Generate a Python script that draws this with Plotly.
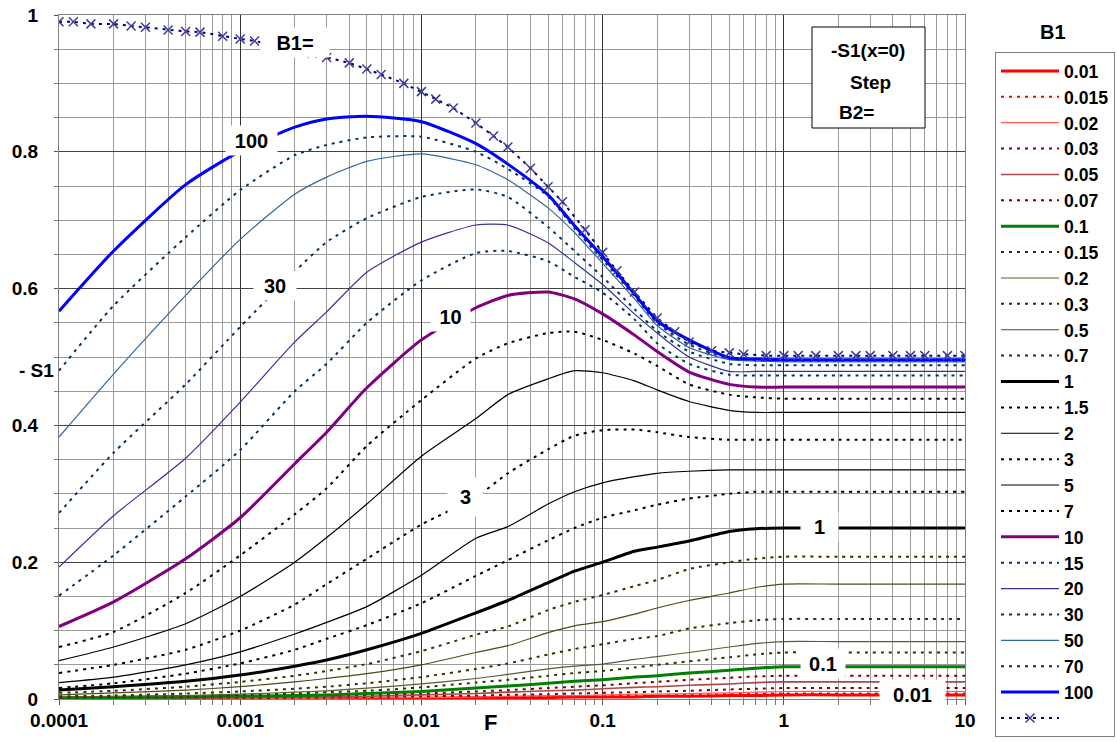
import math
import plotly.graph_objects as go

# Fourier number grid shared by the B1 curves
F = [1e-4, 2e-4, 5e-4, 1e-3, 2e-3, 3e-3, 5e-3, 1e-2, 2e-2, 3e-2, 5e-2, 7e-2,
     0.1, 0.15, 0.2, 0.3, 0.5, 0.7, 1, 2, 10]

# -S1(x=0) for each Biot number B1
s_0_01 = [0.001, 0.001, 0.001, 0.001, 0.001, 0.001, 0.001, 0.001, 0.002, 0.002, 0.002, 0.003, 0.003, 0.003, 0.004, 0.004, 0.005, 0.005, 0.006, 0.006, 0.006]
s_0_015 = [0.001, 0.001, 0.001, 0.001, 0.001, 0.001, 0.001, 0.002, 0.002, 0.003, 0.003, 0.004, 0.004, 0.005, 0.005, 0.006, 0.007, 0.008, 0.008, 0.008, 0.008]
s_0_02 = [0.001, 0.001, 0.001, 0.001, 0.001, 0.001, 0.002, 0.002, 0.003, 0.004, 0.005, 0.005, 0.006, 0.007, 0.007, 0.008, 0.009, 0.010, 0.011, 0.011, 0.011]
s_0_03 = [0.001, 0.001, 0.001, 0.001, 0.002, 0.002, 0.003, 0.004, 0.005, 0.006, 0.007, 0.008, 0.009, 0.010, 0.011, 0.012, 0.014, 0.015, 0.016, 0.016, 0.016]
s_0_05 = [0.001, 0.001, 0.001, 0.002, 0.003, 0.003, 0.004, 0.006, 0.008, 0.010, 0.012, 0.013, 0.015, 0.017, 0.018, 0.020, 0.022, 0.024, 0.025, 0.025, 0.025]
s_0_07 = [0.001, 0.001, 0.002, 0.003, 0.004, 0.005, 0.006, 0.008, 0.011, 0.013, 0.016, 0.018, 0.020, 0.023, 0.025, 0.028, 0.031, 0.033, 0.034, 0.034, 0.034]
s_0_1 = [0.001, 0.002, 0.003, 0.004, 0.005, 0.006, 0.008, 0.011, 0.016, 0.019, 0.023, 0.026, 0.028, 0.032, 0.034, 0.038, 0.042, 0.045, 0.047, 0.047, 0.047]
s_0_15 = [0.002, 0.003, 0.004, 0.006, 0.008, 0.010, 0.012, 0.017, 0.024, 0.028, 0.034, 0.038, 0.041, 0.046, 0.050, 0.055, 0.061, 0.065, 0.068, 0.068, 0.068]
s_0_2 = [0.003, 0.004, 0.005, 0.007, 0.010, 0.012, 0.016, 0.022, 0.030, 0.036, 0.044, 0.048, 0.051, 0.058, 0.062, 0.068, 0.076, 0.081, 0.084, 0.084, 0.084]
s_0_3 = [0.004, 0.005, 0.008, 0.011, 0.015, 0.018, 0.023, 0.032, 0.044, 0.052, 0.065, 0.073, 0.080, 0.088, 0.092, 0.103, 0.111, 0.115, 0.117, 0.117, 0.117]
s_0_5 = [0.006, 0.009, 0.013, 0.018, 0.025, 0.030, 0.037, 0.050, 0.068, 0.078, 0.097, 0.107, 0.113, 0.124, 0.133, 0.144, 0.155, 0.163, 0.168, 0.168, 0.168]
s_0_7 = [0.009, 0.012, 0.018, 0.025, 0.034, 0.041, 0.051, 0.070, 0.094, 0.106, 0.130, 0.142, 0.152, 0.165, 0.174, 0.190, 0.200, 0.205, 0.208, 0.208, 0.208]
s_1 = [0.013, 0.018, 0.026, 0.035, 0.048, 0.057, 0.072, 0.096, 0.126, 0.144, 0.170, 0.187, 0.200, 0.216, 0.222, 0.231, 0.245, 0.249, 0.250, 0.250, 0.250]
s_1_5 = [0.016, 0.023, 0.037, 0.052, 0.072, 0.088, 0.108, 0.140, 0.180, 0.203, 0.232, 0.250, 0.265, 0.276, 0.284, 0.293, 0.300, 0.303, 0.303, 0.303, 0.303]
s_2 = [0.024, 0.032, 0.050, 0.069, 0.095, 0.112, 0.135, 0.181, 0.235, 0.252, 0.285, 0.303, 0.316, 0.325, 0.330, 0.333, 0.335, 0.335, 0.335, 0.335, 0.335]
s_3 = [0.038, 0.050, 0.072, 0.100, 0.138, 0.168, 0.205, 0.255, 0.295, 0.330, 0.365, 0.385, 0.393, 0.394, 0.390, 0.383, 0.379, 0.379, 0.379, 0.379, 0.379]
s_5 = [0.056, 0.076, 0.110, 0.150, 0.200, 0.236, 0.285, 0.355, 0.410, 0.445, 0.468, 0.480, 0.477, 0.465, 0.452, 0.435, 0.422, 0.419, 0.419, 0.419, 0.419]
s_7 = [0.076, 0.098, 0.155, 0.210, 0.270, 0.308, 0.370, 0.437, 0.498, 0.520, 0.535, 0.537, 0.525, 0.505, 0.487, 0.460, 0.445, 0.441, 0.439, 0.439, 0.439]
s_10 = [0.106, 0.142, 0.205, 0.265, 0.344, 0.390, 0.455, 0.525, 0.572, 0.590, 0.595, 0.585, 0.563, 0.532, 0.508, 0.478, 0.460, 0.456, 0.456, 0.456, 0.456]
s_15 = [0.151, 0.210, 0.296, 0.364, 0.450, 0.490, 0.550, 0.612, 0.652, 0.655, 0.640, 0.617, 0.594, 0.555, 0.520, 0.490, 0.474, 0.473, 0.473, 0.473, 0.473]
s_20 = [0.193, 0.268, 0.352, 0.434, 0.522, 0.566, 0.624, 0.668, 0.693, 0.693, 0.667, 0.638, 0.606, 0.563, 0.535, 0.500, 0.479, 0.479, 0.479, 0.479, 0.479]
s_30 = [0.272, 0.360, 0.460, 0.544, 0.625, 0.668, 0.703, 0.734, 0.745, 0.734, 0.690, 0.655, 0.617, 0.570, 0.538, 0.508, 0.490, 0.488, 0.488, 0.488, 0.488]
s_50 = [0.383, 0.475, 0.590, 0.672, 0.738, 0.763, 0.786, 0.797, 0.781, 0.759, 0.718, 0.682, 0.637, 0.585, 0.546, 0.514, 0.496, 0.494, 0.493, 0.493, 0.493]
s_70 = [0.480, 0.575, 0.675, 0.744, 0.795, 0.810, 0.821, 0.822, 0.800, 0.775, 0.735, 0.688, 0.642, 0.589, 0.550, 0.518, 0.498, 0.496, 0.495, 0.495, 0.495]
s_100 = [0.567, 0.655, 0.752, 0.801, 0.836, 0.848, 0.852, 0.844, 0.812, 0.782, 0.737, 0.692, 0.647, 0.592, 0.553, 0.525, 0.499, 0.497, 0.496, 0.496, 0.496]

# Limiting curve drawn with x markers
F_lim = [1e-4, 1.2e-4, 1.5e-4, 2e-4, 2.5e-4, 3e-4, 4e-4, 5e-4, 6e-4, 8e-4,
         1e-3, 1.2e-3, 1.5e-3, 2e-3, 2.5e-3, 3e-3, 4e-3, 5e-3, 6e-3, 8e-3,
         1e-2, 1.2e-2, 1.5e-2, 2e-2, 2.5e-2, 3e-2, 4e-2, 5e-2, 6e-2, 8e-2,
         0.1, 0.12, 0.15, 0.2, 0.25, 0.3, 0.4, 0.5, 0.6, 0.8,
         1, 1.2, 1.5, 2, 2.5, 3, 4, 5, 6, 8, 10]
s_lim = [0.990, 0.990, 0.987, 0.987, 0.984, 0.982, 0.978, 0.976, 0.975, 0.969,
         0.965, 0.962, 0.957, 0.950, 0.944, 0.938, 0.930, 0.921, 0.913, 0.900,
         0.888, 0.877, 0.864, 0.842, 0.823, 0.807, 0.776, 0.749, 0.727, 0.686,
         0.653, 0.626, 0.595, 0.557, 0.537, 0.522, 0.509, 0.506, 0.504, 0.502,
         0.502, 0.502, 0.502, 0.502, 0.502, 0.502, 0.502, 0.502, 0.502, 0.502, 0.502]

b1_labels = ["0.01", "0.015", "0.02", "0.03", "0.05", "0.07", "0.1", "0.15", "0.2",
             "0.3", "0.5", "0.7", "1", "1.5", "2", "3", "5", "7", "10", "15", "20",
             "30", "50", "70", "100"]
b1_series = [s_0_01, s_0_015, s_0_02, s_0_03, s_0_05, s_0_07, s_0_1, s_0_15, s_0_2,
             s_0_3, s_0_5, s_0_7, s_1, s_1_5, s_2, s_3, s_5, s_7, s_10, s_15, s_20,
             s_30, s_50, s_70, s_100]

DOT = "3px,5px"
# (colour, width, dash) per curve
styles = [
    ("#FF0000", 3.0, "solid"), ("#FF0000", 2.0, DOT), ("#FF5A5A", 1.2, "solid"),
    ("#800000", 2.0, DOT), ("#A84848", 1.6, "solid"), ("#800000", 2.0, DOT),
    ("#008000", 3.0, "solid"), ("#333300", 2.0, DOT), ("#5C5C33", 1.2, "solid"),
    ("#333300", 2.0, DOT), ("#4D4D1A", 1.2, "solid"), ("#333300", 2.0, DOT),
    ("#000000", 3.0, "solid"), ("#000000", 2.0, DOT), ("#000000", 1.2, "solid"),
    ("#000000", 2.0, DOT), ("#000000", 1.2, "solid"), ("#000000", 2.0, DOT),
    ("#800080", 3.0, "solid"), ("#003366", 2.0, DOT), ("#333399", 1.2, "solid"),
    ("#003366", 2.0, DOT), ("#336699", 1.2, "solid"), ("#003366", 2.0, DOT),
    ("#0000FF", 3.0, "solid"),
]

FONT = "Liberation Sans, Arial, sans-serif"

fig = go.Figure()
for name, vals, (col, w, dash) in zip(b1_labels, b1_series, styles):
    fig.add_trace(go.Scatter(
        x=F, y=vals, name=name, mode="lines",
        line=dict(color=col, width=w, dash=dash, shape="spline", smoothing=0.6),
    ))

fig.add_trace(go.Scatter(
    x=F_lim, y=s_lim, name=" ", mode="lines+markers",
    line=dict(color="#000080", width=2, dash=DOT),
    marker=dict(symbol="x-thin", size=9, color="#3c3c9c",
                line=dict(width=1.5, color="#3c3c9c")),
))

decades = [1e-4, 1e-3, 1e-2, 1e-1, 1, 10]
minor_x = [m * d for d in decades[:-1] for m in range(2, 10)]
minor_y = [round(0.05 * i, 2) for i in range(1, 20) if i % 4 != 0]

fig.update_xaxes(
    type="log", range=[-4, 1],
    tickmode="array", tickvals=decades,
    ticktext=["0.0001", "0.001", "0.01", "0.1", "1", "10"],
    tickfont=dict(family=FONT, size=19, color="#000", weight="bold"),
    ticks="outside", ticklen=5, tickcolor="#555",
    showgrid=True, gridcolor="#333", gridwidth=1,
    minor=dict(tickmode="array", tickvals=minor_x, showgrid=True,
               gridcolor="#9a9a9a", gridwidth=1, ticks="outside", ticklen=5,
               tickcolor="#777"),
    showline=True, linecolor="#808080", linewidth=1, mirror=True,
    zeroline=False, ticklabelstandoff=-1,
)
fig.update_yaxes(
    range=[0, 1],
    tickmode="array", tickvals=[0, 0.2, 0.4, 0.6, 0.8, 1],
    ticktext=["0", "0.2", "0.4", "0.6", "0.8", "1"],
    tickfont=dict(family=FONT, size=19, color="#000", weight="bold"),
    ticks="outside", ticklen=4, tickcolor="#555",
    showgrid=True, gridcolor="#444", gridwidth=1,
    minor=dict(tickmode="array", tickvals=minor_y, showgrid=True,
               gridcolor="#9a9a9a", gridwidth=1, ticks="outside", ticklen=4,
               tickcolor="#777"),
    showline=True, linecolor="#808080", linewidth=1, mirror=True,
    zeroline=False, ticklabelstandoff=12,
)

W, H = 1117, 742
L, R, T, B = 59, 152, 15, 43
PW, PH = W - L - R, H - T - B


def px(x):
    return (x - L) / PW


def py(y):
    return (H - B - y) / PH


bold = dict(family=FONT, color="#000", weight="bold")
annotations = [
    dict(text="- S1", x=px(36), y=py(370), font=dict(size=19, **bold)),
    dict(text="F", x=px(490), y=py(722), font=dict(size=22, **bold)),
    dict(text="B1", x=px(1053), y=py(32), font=dict(size=20, **bold)),
    dict(text="-S1(x=0)", x=px(868), y=py(50), font=dict(size=19, **bold)),
    dict(text="Step", x=px(870), y=py(82), font=dict(size=19, **bold)),
    dict(text="B2=", x=px(856), y=py(113), font=dict(size=19, **bold)),
]
for a in annotations:
    a.update(xref="paper", yref="paper", showarrow=False,
             xanchor="center", yanchor="middle")

# curve labels on white patches
curve_labels = [
    ("B1=", 2.0e-3, 0.960, 66, 27),
    ("100", 1.159e-3, 0.816, 49, 27),
    ("30", 1.551e-3, 0.605, 40, 27),
    ("10", 1.449e-2, 0.5585, 37, 27),
    ("3", 1.752e-2, 0.2953, 33, 36),
    ("1", 1.567, 0.2515, 35, 27),
    ("0.1", 1.649, 0.052, 42, 27),
    ("0.01", 5.1, 0.0073, 63, 27),
]
for txt, xv, yv, w, h in curve_labels:
    annotations.append(dict(
        text=txt, x=math.log10(xv), y=yv, xref="x", yref="y",
        xanchor="center", yanchor="middle",
        showarrow=False, bgcolor="#FFFFFF", width=w, height=h,
        font=dict(size=20, **bold),
    ))

fig.update_layout(
    width=W, height=H,
    margin=dict(l=L, r=R, t=T, b=B, autoexpand=False),
    paper_bgcolor="#FFFFFF", plot_bgcolor="#FFFFFF",
    annotations=annotations,
    shapes=[dict(type="rect", xref="paper", yref="paper",
                 x0=px(812), x1=px(925), y0=py(128), y1=py(27),
                 line=dict(color="#000", width=1), fillcolor="#FFFFFF",
                 layer="above")],
    legend=dict(
        x=px(995), y=py(52), xanchor="left", yanchor="top",
        bordercolor="#808080", borderwidth=1, bgcolor="#FFFFFF",
        font=dict(family=FONT, size=17.6, color="#000", weight="bold"),
        itemwidth=58, tracegroupgap=0, maxheight=720,
    ),
    showlegend=True,
)

fig.write_html("out.html")
